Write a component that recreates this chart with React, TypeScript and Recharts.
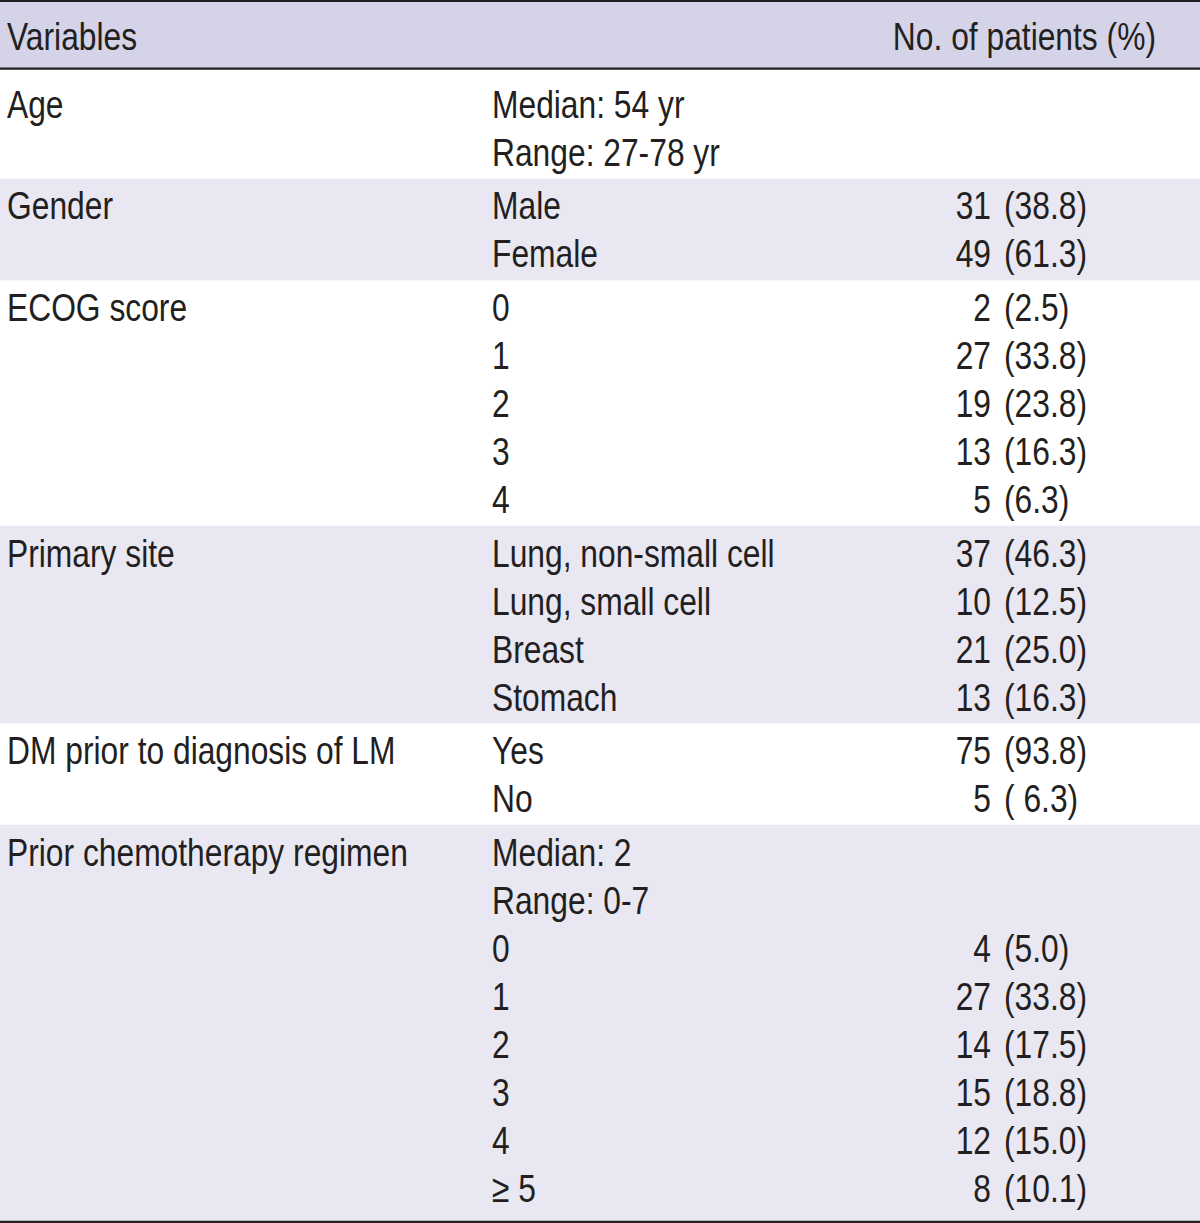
import React from "react";
import { ComposedChart, XAxis, YAxis, Scatter, ReferenceArea, ReferenceLine } from "recharts";

// ---------- data ----------
const headerLeft = "Variables";
const headerRight = "No. of patients (%)";

const variableNames = [
  "Age",
  "Gender",
  "ECOG score",
  "Primary site",
  "DM prior to diagnosis of LM",
  "Prior chemotherapy regimen",
];

const ageItems = ["Median: 54 yr", "Range: 27-78 yr"];
const ageCounts: (number | null)[] = [null, null];
const agePcts: (string | null)[] = [null, null];

const genderItems = ["Male", "Female"];
const genderCounts = [31, 49];
const genderPcts = ["38.8", "61.3"];

const ecogItems = ["0", "1", "2", "3", "4"];
const ecogCounts = [2, 27, 19, 13, 5];
const ecogPcts = ["2.5", "33.8", "23.8", "16.3", "6.3"];

const siteItems = ["Lung, non-small cell", "Lung, small cell", "Breast", "Stomach"];
const siteCounts = [37, 10, 21, 13];
const sitePcts = ["46.3", "12.5", "25.0", "16.3"];

const dmItems = ["Yes", "No"];
const dmCounts = [75, 5];
const dmPcts = ["93.8", " 6.3"];

const chemoItems = ["Median: 2", "Range: 0-7", "0", "1", "2", "3", "4", "\u2265 5"];
const chemoCounts: (number | null)[] = [null, null, 4, 27, 14, 15, 12, 8];
const chemoPcts: (string | null)[] = [null, null, "5.0", "33.8", "17.5", "18.8", "15.0", "10.1"];

const groupItems = [ageItems, genderItems, ecogItems, siteItems, dmItems, chemoItems];
const groupCounts = [ageCounts, genderCounts, ecogCounts, siteCounts, dmCounts, chemoCounts];
const groupPcts = [agePcts, genderPcts, ecogPcts, sitePcts, dmPcts, chemoPcts];
const groupShaded = [false, true, false, true, false, true];

// ---------- layout (row units) ----------
const GAP = 0.115; // extra spacing between groups
const HEADER_POS = -1.417;
const DOMAIN: [number, number] = [-2.1667, 23.3125];

type Line = {
  x: number;
  pos: number;
  variable: string;
  item: string;
  count: number | null;
  pct: string | null;
};

const lines: Line[] = [];
const bands: { y1: number; y2: number; shaded: boolean }[] = [];
let idx = 0;
groupItems.forEach((items, g) => {
  const start = idx + g * GAP;
  items.forEach((item, i) => {
    lines.push({
      x: 0,
      pos: idx + g * GAP,
      variable: i === 0 ? variableNames[g] : "",
      item,
      count: groupCounts[g][i] as number | null,
      pct: groupPcts[g][i] as string | null,
    });
    idx += 1;
  });
  const end = idx - 1 + g * GAP;
  bands.push({ y1: start - 0.5 - GAP / 2, y2: end + 0.5 + GAP / 2, shaded: groupShaded[g] });
});
const headerData = [{ x: 0, pos: HEADER_POS }];

const TOP_RULE = -2.146;
const HEADER_RULE = -0.735;
const BOTTOM_RULE = 23.29;

const FONT = "'Liberation Sans', Arial, sans-serif";
const FS = 39;
const SX = 0.815;
const INK = "#231f20";
const COL1 = 7;
const COL2 = 492;
const COUNT_END = 991;
const PCT_START = 1004;
const HEADER_END = 1156;

const txt = (x: number, y: number, s: string, anchor: "start" | "end" = "start") => (
  <text
    transform={`translate(${x},${y}) scale(${SX},1)`}
    x={0}
    y={0}
    dy={FS * 0.358}
    textAnchor={anchor}
    fontFamily={FONT}
    fontSize={FS}
    fill={INK}
    style={{ whiteSpace: "pre" }}
  >
    {s}
  </text>
);

const RowShape = (props: any) => {
  const { cx, cy, payload } = props;
  return (
    <g>
      {payload.variable ? txt(cx + COL1, cy, payload.variable) : null}
      {txt(cx + COL2, cy, payload.item)}
      {payload.count != null ? txt(cx + COUNT_END, cy, String(payload.count), "end") : null}
      {payload.pct != null ? txt(cx + PCT_START, cy, `(${payload.pct})`) : null}
    </g>
  );
};

const HeaderShape = (props: any) => {
  const { cx, cy } = props;
  return (
    <g>
      {txt(cx + COL1, cy, headerLeft)}
      {txt(cx + HEADER_END, cy, headerRight, "end")}
    </g>
  );
};

export default function App() {
  return (
    <div style={{ width: 1200, height: 1223, background: "#fff" }}>
      <style>{"body{margin:0;}"}</style>
      <ComposedChart
        width={1200}
        height={1223}
        margin={{ top: 0, right: 0, bottom: 0, left: 0 }}
        data={lines}
      >
        <XAxis type="number" dataKey="x" domain={[0, 1200]} hide allowDataOverflow />
        <YAxis type="number" dataKey="pos" domain={DOMAIN} reversed hide allowDataOverflow />
        <ReferenceArea y1={TOP_RULE} y2={HEADER_RULE} fill="#d4d3e7" fillOpacity={1} stroke="none" ifOverflow="visible" />
        {bands.map((b, i) =>
          b.shaded ? (
            <ReferenceArea
              key={i}
              y1={b.y1}
              y2={i === bands.length - 1 ? BOTTOM_RULE : b.y2}
              fill="#e8e7f2"
              fillOpacity={1}
              stroke="none"
              ifOverflow="visible"
            />
          ) : null
        )}
        <ReferenceLine y={TOP_RULE} stroke={INK} strokeWidth={2.2} ifOverflow="visible" />
        <ReferenceLine y={HEADER_RULE} stroke={INK} strokeWidth={2.2} ifOverflow="visible" />
        <ReferenceLine y={BOTTOM_RULE} stroke={INK} strokeWidth={2.2} ifOverflow="visible" />
        <Scatter data={headerData} dataKey="pos" shape={HeaderShape} isAnimationActive={false} />
        <Scatter data={lines} dataKey="pos" shape={RowShape} isAnimationActive={false} />
      </ComposedChart>
    </div>
  );
}
